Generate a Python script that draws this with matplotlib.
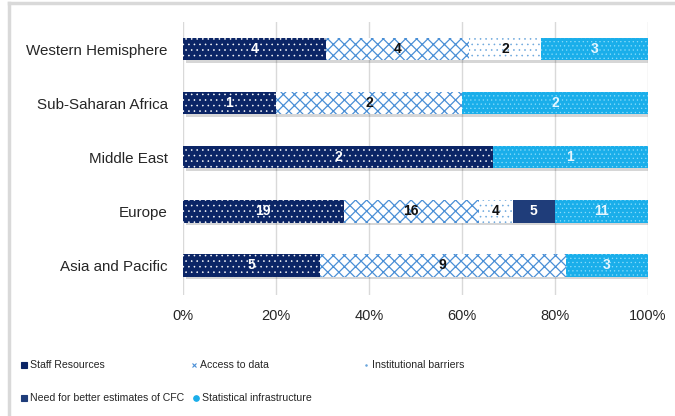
import matplotlib
matplotlib.use("Agg")
import matplotlib.pyplot as plt
from matplotlib.lines import Line2D
import numpy as np

plt.rcParams['font.family'] = ['Liberation Sans', 'DejaVu Sans']

regions = ["Asia and Pacific", "Europe", "Middle East", "Sub-Saharan Africa", "Western Hemisphere"]
series = ["Staff Resources", "Access to data", "Institutional barriers",
          "Need for better estimates of CFC", "Statistical infrastructure"]
staff = [5, 19, 2, 1, 4]
access = [9, 16, 0, 2, 4]
institutional = [0, 4, 0, 0, 2]
cfc = [0, 5, 0, 0, 0]
statistical = [3, 11, 1, 2, 3]
xticks = [0, 20, 40, 60, 80, 100]
xtick_labels = ["0%", "20%", "40%", "60%", "80%", "100%"]

data = np.array([staff, access, institutional, cfc, statistical], dtype=float)
totals = data.sum(axis=0)
pct = data / totals * 100

styles = [
    dict(face="#0b2566", hatch_col="#ffffff", hatch="...", hlw=0.4, label_col="#ffffff",
         mk="s", mkc="#0b2566", ms=4),
    dict(face="#ffffff", hatch_col="#4a8fd6", hatch="xxx", hlw=0.9, label_col="#111111",
         mk="x", mkc="#4a8fd6", ms=3.5),
    dict(face="#ffffff", hatch_col="#6aa6dc", hatch="...", hlw=0.4, label_col="#111111",
         mk=".", mkc="#6aa6dc", ms=2),
    dict(face="#1f3d7a", hatch_col="#1f3d7a", hatch=None, hlw=0.5, label_col="#ffffff",
         mk="s", mkc="#1f3d7a", ms=4),
    dict(face="#1aaeea", hatch_col="#8adcfb", hatch="....", hlw=0.4, label_col="#e6f6ff",
         mk="o", mkc="#1aaeea", ms=4),
]

fig = plt.figure(figsize=(6.75, 4.16), dpi=100)
ax = fig.add_axes([0.271, 0.291, 0.689, 0.656])

y = np.arange(len(regions))
h = 0.42

# shadows
ax.barh(y - 0.05, 100, left=0.6, height=h, color="#000000", alpha=0.16, zorder=1, linewidth=0)

left = np.zeros(len(regions))
for i, st in enumerate(styles):
    vals = pct[i]
    with plt.rc_context({'hatch.linewidth': st["hlw"]}):
        ax.barh(y, vals, left=left, height=h, facecolor=st["face"],
                edgecolor=st["hatch_col"], hatch=st["hatch"], linewidth=0, zorder=2)
    for j in range(len(regions)):
        if data[i, j] > 0:
            ax.text(left[j] + vals[j] / 2, y[j], f"{int(data[i, j])}",
                    ha="center", va="center", fontsize=10, fontweight="bold",
                    color=st["label_col"], zorder=4)
    left += vals

ax.set_xlim(0, 100)
ax.set_ylim(-0.55, 4.5)
ax.set_yticks(y)
ax.set_yticklabels(regions, fontsize=10.9, color="#262626")
ax.set_xticks(xticks)
ax.set_xticklabels(xtick_labels, fontsize=10.5, color="#262626")
ax.tick_params(axis="both", length=0)
ax.tick_params(axis="x", pad=10)
ax.tick_params(axis="y", pad=11)
ax.grid(axis="x", color="#d9d9d9", linewidth=1, zorder=0)
ax.set_axisbelow(True)
for s in ax.spines.values():
    s.set_visible(False)

# outer frame lines (top and left)
fig.add_artist(Line2D([0.013, 1.0], [0.992, 0.992], color="#d9d9d9", lw=2.5, transform=fig.transFigure))
fig.add_artist(Line2D([0.013, 0.013], [0.0, 0.992], color="#d9d9d9", lw=2.5, transform=fig.transFigure))

# legend (manual)
W, H = 675.0, 416.0
entries = [
    (0, 24, 365), (1, 194, 365), (2, 366, 365),
    (3, 24, 398), (4, 196, 398),
]
for idx, px, py in entries:
    st = styles[idx]
    fx, fy = px / W, 1 - py / H
    fig.add_artist(Line2D([fx], [fy], marker=st["mk"], markersize=st["ms"],
                          color=st["mkc"], markeredgecolor=st["mkc"], linestyle="none",
                          markeredgewidth=0.8, transform=fig.transFigure))
    fig.text((px + 6) / W, fy, series[idx], fontsize=7.6,
             color="#262626", ha="left", va="center")

fig.savefig("out.png", dpi=100)
